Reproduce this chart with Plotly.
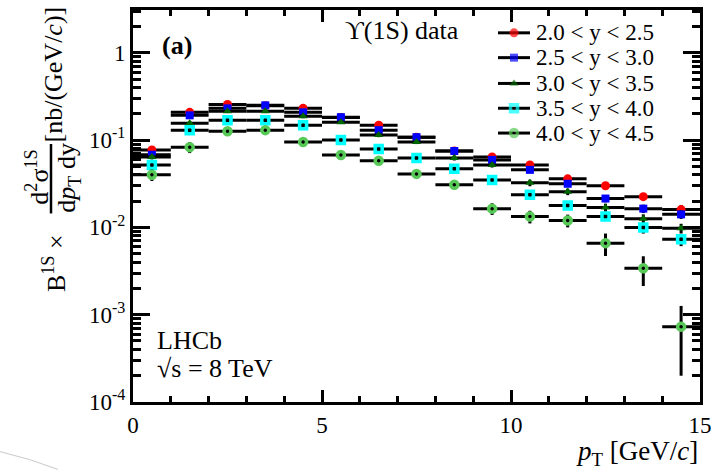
import plotly.graph_objects as go

# ---- data: Upsilon(1S) differential cross-section vs pT, five rapidity bins ----
pt_centers = [0.5, 1.5, 2.5, 3.5, 4.5, 5.5, 6.5, 7.5, 8.5, 9.5, 10.5, 11.5, 12.5, 13.5, 14.5]
pt_halfwidth = 0.5

y_20_25 = [0.077, 0.208, 0.256, 0.248, 0.231, 0.182, 0.148, 0.108, 0.075, 0.064, 0.052, 0.036, 0.030, 0.0225, 0.016]
e_20_25 = [0.004, 0.008, 0.010, 0.010, 0.009, 0.007, 0.006, 0.005, 0.004, 0.0035, 0.003, 0.0025, 0.0025, 0.002, 0.002]

y_25_30 = [0.068, 0.192, 0.231, 0.250, 0.208, 0.183, 0.130, 0.108, 0.075, 0.0593, 0.0456, 0.0316, 0.0214, 0.0164, 0.0141]
e_25_30 = [0.004, 0.008, 0.010, 0.010, 0.009, 0.007, 0.006, 0.005, 0.004, 0.0035, 0.003, 0.0025, 0.002, 0.0018, 0.0016]

y_30_35 = [0.064, 0.156, 0.214, 0.214, 0.187, 0.160, 0.114, 0.095, 0.0624, 0.052, 0.0324, 0.0256, 0.0169, 0.0126, 0.0098]
e_30_35 = [0.004, 0.008, 0.010, 0.010, 0.009, 0.007, 0.006, 0.005, 0.004, 0.0035, 0.0028, 0.0022, 0.0018, 0.0015, 0.0012]

y_35_40 = [0.052, 0.130, 0.169, 0.169, 0.148, 0.100, 0.079, 0.0624, 0.0468, 0.035, 0.0237, 0.0178, 0.0133, 0.010, 0.0073]
e_35_40 = [0.004, 0.008, 0.010, 0.010, 0.009, 0.006, 0.005, 0.004, 0.003, 0.0025, 0.002, 0.0017, 0.0015, 0.0015, 0.0012]

y_40_45 = [0.040, 0.083, 0.126, 0.130, 0.095, 0.0676, 0.058, 0.041, 0.0308, 0.0164, 0.0133, 0.012, 0.0066, 0.0034, 0.00073]
e_40_45 = [0.006, 0.012, 0.012, 0.012, 0.009, 0.006, 0.005, 0.004, 0.0035, 0.0025, 0.0022, 0.002, 0.0019, 0.00127, 0.00053]

series_labels = ["2.0 < y < 2.5", "2.5 < y < 3.0", "3.0 < y < 3.5", "3.5 < y < 4.0", "4.0 < y < 4.5"]
series_values = [y_20_25, y_25_30, y_30_35, y_35_40, y_40_45]
series_errors = [e_20_25, e_25_30, e_30_35, e_35_40, e_40_45]

y_tick_vals = [1e-4, 1e-3, 1e-2, 1e-1, 1]
y_tick_text = ["10<sup>-4</sup>", "10<sup>-3</sup>", "10<sup>-2</sup>", "10<sup>-1</sup>", "1"]
x_tick_vals = [0, 5, 10, 15]

# ---- marker styles ----
styles = [
    dict(symbol="circle", color="#ff0000", size=9, line=dict(width=0)),
    dict(symbol="square", color="#0000ff", size=8, line=dict(width=0)),
    dict(symbol="triangle-up", color="#006400", size=8, line=dict(width=0)),
    dict(symbol="square-open", color="#00ffff", size=7, line=dict(width=3.5, color="#00ffff")),
    dict(symbol="circle-open", color="#57c957", size=7, line=dict(width=3.5, color="#57c957")),
]

FONT = "Liberation Serif"
W, H = 720, 470
L, R, T, B = 133, 700, 7, 402


def px(x):
    return (x - L) / (R - L)


def py(y):
    return (B - y) / (B - T)


fig = go.Figure()

for vals, errs, st in zip(series_values, series_errors, styles):
    fig.add_trace(go.Scatter(
        x=pt_centers, y=vals, mode="markers",
        marker=st,
        error_x=dict(type="constant", value=pt_halfwidth, thickness=3, width=0, color="black"),
        error_y=dict(type="data", array=errs, thickness=3, width=0, color="black"),
        showlegend=False, cliponaxis=False,
    ))

# ---- hand-built legend on a pixel-unit overlay axis ----
legend_rows = [30, 55, 81, 106, 131]
for row, st, lab in zip(legend_rows, styles, series_labels):
    ms = dict(st)
    ms["size"] = [0, st["size"], 0]
    fig.add_trace(go.Scatter(
        x=[498, 514, 530], y=[row, row, row], mode="lines+markers",
        line=dict(color="black", width=3), marker=ms,
        xaxis="x2", yaxis="y2", showlegend=False, cliponaxis=False,
        hoverinfo="skip",
    ))

annotations = []
for row, lab in zip(legend_rows, series_labels):
    annotations.append(dict(
        text=lab, x=px(534), y=py(row), xref="paper", yref="paper",
        xanchor="left", yanchor="middle", showarrow=False,
        font=dict(family=FONT, size=23, color="black"),
    ))


def note(text, x, y, size=26, xanchor="center", angle=0):
    annotations.append(dict(
        text=text, x=px(x), y=py(y), xref="paper", yref="paper",
        xanchor=xanchor, yanchor="middle", showarrow=False, textangle=angle,
        font=dict(family=FONT, size=size, color="black"),
    ))


note("<b>(a)</b>", 177, 43)
note("ϒ(1S) data", 343, 28, xanchor="left")
note("LHCb", 155, 340, xanchor="left")
note("√s = 8 TeV", 155, 368, size=26, xanchor="left")
note("<i>p</i><sub>T</sub> [GeV/<i>c</i>]", 700, 453, size=27, xanchor="right")

# y-axis title with a fraction, rotated
note("[nb/(GeV/<i>c</i>)]", 54, 72, angle=-90)
note("d<sup>2</sup>σ<sup>1S</sup>", 38, 176, angle=-90)
note("d<i>p</i><sub>T</sub> dy", 68, 176, angle=-90)
note("B<sup>1S</sup> ×", 54, 262, angle=-90)

shapes = [
    dict(type="line", xref="paper", yref="paper",
         x0=px(51), x1=px(51), y0=py(142), y1=py(212),
         line=dict(color="black", width=2.5)),
    dict(type="path", xref="paper", yref="paper",
         path=f"M {px(0)},{py(452)} Q {px(30)},{py(459)} {px(58)},{py(470)}",
         line=dict(color="#c8c8c8", width=1)),
]

minor_y = [k * 10.0 ** n for n in range(-4, 1) for k in range(2, 10) if k * 10.0 ** n <= 3.05]

fig.update_layout(
    width=W, height=H,
    margin=dict(l=L, r=W - R, t=T, b=H - B),
    paper_bgcolor="white", plot_bgcolor="white",
    font=dict(family=FONT, size=23, color="black"),
    showlegend=False,
    annotations=annotations,
    shapes=shapes,
    xaxis=dict(
        range=[0, 15], tickmode="array", tickvals=x_tick_vals,
        ticks="inside", ticklen=12, tickwidth=2.5, tickcolor="black",
        showline=True, linecolor="black", linewidth=3, mirror="ticks",
        showgrid=False, zeroline=False,
        tickfont=dict(family=FONT, size=23, color="black"),
        minor=dict(dtick=1, ticks="inside", ticklen=6, tickwidth=2.5, tickcolor="black", showgrid=False),
    ),
    yaxis=dict(
        type="log", range=[-4, 0.49], tickmode="array",
        tickvals=y_tick_vals, ticktext=y_tick_text,
        ticks="inside", ticklen=17, tickwidth=2.5, tickcolor="black",
        showline=True, linecolor="black", linewidth=3, mirror="ticks",
        showgrid=False, zeroline=False,
        tickfont=dict(family=FONT, size=23, color="black"),
        minor=dict(tickmode="array", tickvals=minor_y, ticks="inside", ticklen=8,
                   tickwidth=2.5, tickcolor="black", showgrid=False),
    ),
    xaxis2=dict(overlaying="x", range=[L, R], visible=False, fixedrange=True),
    yaxis2=dict(overlaying="y", range=[B, T], visible=False, fixedrange=True),
)

fig.write_html("out.html")
